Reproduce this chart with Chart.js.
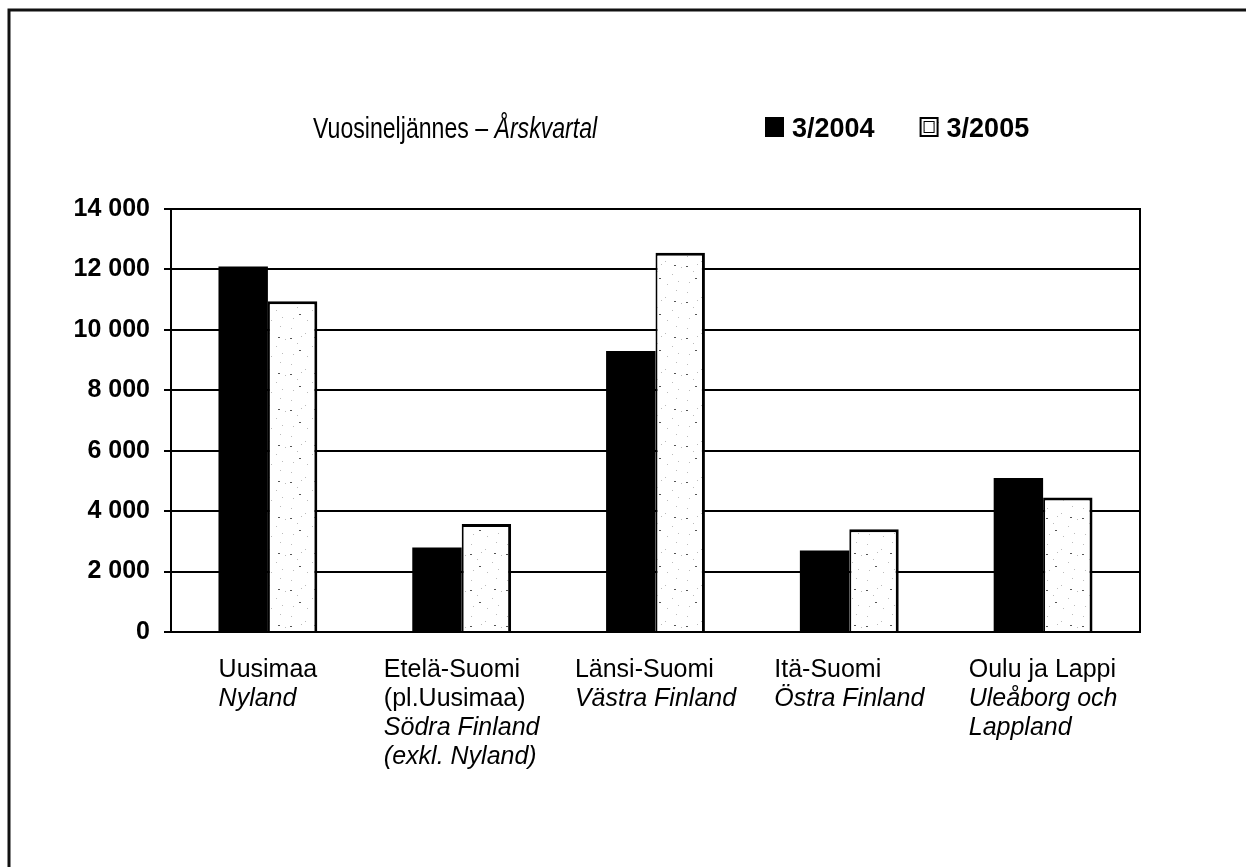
<!DOCTYPE html>
<html>
<head>
<meta charset="utf-8">
<script src="https://cdn.jsdelivr.net/npm/chart.js@4"></script>
<style>
  html, body { margin: 0; padding: 0; background: #fff; }
  canvas { display: block; }
</style>
</head>
<body>
<canvas id="grbarra" width="1246" height="867"></canvas>
<script>
// alueet: suomeksi (pysty) ja ruotsiksi (kursiivi)
const alueetFi = [['Uusimaa'], ['Etelä-Suomi', '(pl.Uusimaa)'], ['Länsi-Suomi'], ['Itä-Suomi'], ['Oulu ja Lappi']];
const alueetSv = [['Nyland'], ['Södra Finland', '(exkl. Nyland)'], ['Västra Finland'], ['Östra Finland'], ['Uleåborg och', 'Lappland']];

const sarjat = ['3/2004', '3/2005'];
const arvot2004 = [12100, 2800, 9300, 2700, 5100];
const arvot2005 = [10950, 3575, 12550, 3400, 4450];

const yTicks = [0, 2000, 4000, 6000, 8000, 10000, 12000, 14000];

const otsikkoFi = 'Vuosineljännes – ';
const otsikkoSv = 'Årskvartal';

function muotoile(v) {
    return String(v).replace(/\B(?=(\d{3})+(?!\d))/g, ' ');
}

// pilkullinen kuvio 2005-pylväille
function teeKuvio() {
    const c = document.createElement('canvas');
    c.width = 36; c.height = 36;
    const g = c.getContext('2d');
    g.fillStyle = '#fff';
    g.fillRect(0, 0, 36, 36);
    g.fillStyle = '#bbb';
    [[3, 4], [17, 9], [28, 2], [9, 19], [24, 22], [33, 15], [5, 30], [19, 32], [30, 29], [13, 12]].forEach(p => g.fillRect(p[0], p[1], 1, 1));
    g.fillStyle = '#555';
    [[11, 26], [26, 13], [2, 14]].forEach(p => g.fillRect(p[0], p[1], 2, 1));
    return g.createPattern(c, 'repeat');
}
const kuvio = teeKuvio();

// kapea teksti: Liberation Sans puristettuna vaakasuunnassa
function kapeaTeksti(ctx, teksti, x, y, font, kerroin) {
    ctx.save();
    ctx.font = font;
    ctx.translate(x, y);
    ctx.scale(kerroin, 1);
    ctx.fillText(teksti, 0, 0);
    const w = ctx.measureText(teksti).width * kerroin;
    ctx.restore();
    return w;
}

const kehys = {
    id: 'kehys',
    beforeDatasetsDraw(chart) {
        const { ctx, chartArea: a } = chart;
        ctx.save();
        ctx.strokeStyle = '#000';
        ctx.lineWidth = 2;
        ctx.strokeRect(a.left, a.top, a.right - a.left, a.bottom - a.top);
        ctx.restore();
    },
    afterDraw(chart) {
        const { ctx } = chart;
        ctx.save();
        // ulkoreuna ylhäällä ja vasemmalla
        ctx.strokeStyle = '#111';
        ctx.lineWidth = 3;
        ctx.beginPath();
        ctx.moveTo(9, 867);
        ctx.lineTo(9, 10);
        ctx.lineTo(1246, 10);
        ctx.stroke();

        // otsikko ja selite
        ctx.fillStyle = '#000';
        ctx.textBaseline = 'alphabetic';
        ctx.textAlign = 'left';
        let x = 313;
        const yb = 138;
        x += kapeaTeksti(ctx, otsikkoFi, x, yb, '30px "Liberation Sans"', 0.77);
        kapeaTeksti(ctx, otsikkoSv, x, yb, 'italic 30px "Liberation Sans"', 0.77);

        ctx.font = 'bold 27px "Liberation Sans"';
        let lx = 765;
        chart.data.datasets.forEach((ds, i) => {
            ctx.fillStyle = ds.backgroundColor;
            ctx.fillRect(lx, 117, 19, 20);
            if (i === 1) {
                ctx.strokeStyle = '#000';
                ctx.lineWidth = 2;
                ctx.strokeRect(lx + 1, 118, 17, 18);
                ctx.lineWidth = 1;
                ctx.strokeRect(lx + 4.5, 121.5, 10, 11);
            }
            ctx.fillStyle = '#000';
            ctx.fillText(ds.label, lx + 27, yb - 1);
            lx += 27 + ctx.measureText(ds.label).width + 45;
        });

        // x-akselin nimet: rivit vasemmalle tasattuina, lohko keskitettynä
        const xs = chart.scales.x;
        alueetFi.forEach((fi, i) => {
            const rivit = fi.map(t => ({ t, f: '25px "Liberation Sans"' }))
                .concat(alueetSv[i].map(t => ({ t, f: 'italic 25px "Liberation Sans"' })));
            const w = Math.max(...rivit.map(r => { ctx.font = r.f; return ctx.measureText(r.t).width; }));
            const x0 = xs.getPixelForValue(i) - w / 2;
            rivit.forEach((r, j) => {
                ctx.font = r.f;
                ctx.fillText(r.t, x0, 677 + j * 29);
            });
        });
        ctx.restore();
    }
};

new Chart(document.getElementById('grbarra'), {
    type: 'bar',
    data: {
        labels: alueetFi.map(l => l.join(' ')),
        datasets: [{
            label: sarjat[0],
            data: arvot2004,
            backgroundColor: '#000',
            borderWidth: 0
        }, {
            label: sarjat[1],
            data: arvot2005,
            backgroundColor: kuvio,
            borderColor: '#000',
            borderWidth: { top: 3, right: 3, left: 2, bottom: 0 }
        }]
    },
    options: {
        responsive: false,
        animation: false,
        layout: { padding: { left: 0, right: 106, top: 209, bottom: 0 } },
        datasets: { bar: { categoryPercentage: 0.51, barPercentage: 1 } },
        plugins: {
            legend: { display: false },
            title: { display: false },
            tooltip: { enabled: false }
        },
        scales: {
            x: {
                grid: { display: false },
                border: { color: '#000', width: 2 },
                ticks: { display: false },
                afterFit(scale) { scale.height = 235; }
            },
            y: {
                min: 0,
                max: 14000,
                afterBuildTicks(scale) { scale.ticks = yTicks.map(v => ({ value: v })); },
                grid: { color: '#000', lineWidth: 2, tickLength: 7, tickColor: '#000' },
                border: { color: '#000', width: 2 },
                ticks: {
                    color: '#000',
                    padding: 14,
                    font: { family: 'Liberation Sans', weight: 'bold', size: 25 },
                    callback: v => muotoile(v)
                },
                afterFit(scale) { scale.width = 171; }
            }
        }
    },
    plugins: [kehys]
});
</script>
</body>
</html>
